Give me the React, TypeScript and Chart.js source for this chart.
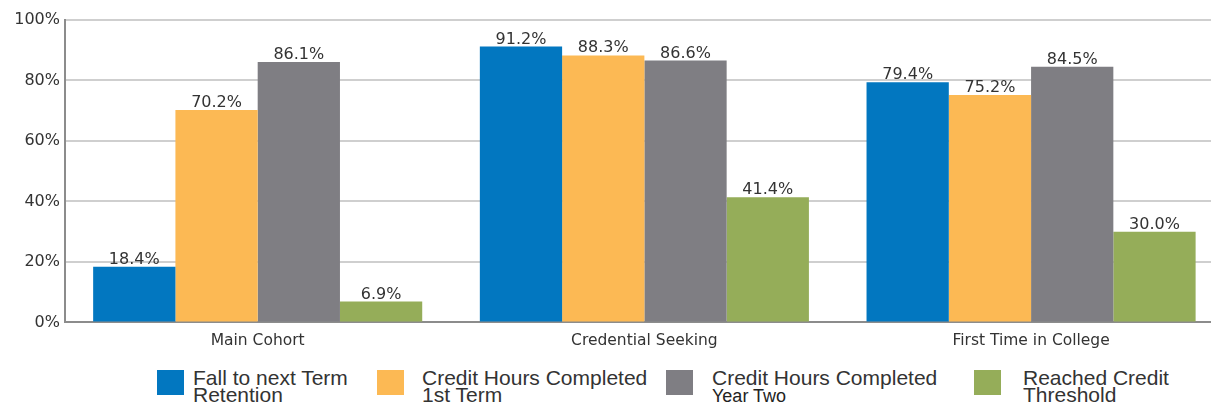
import React, { useEffect, useRef } from "react";
import { Chart, registerables } from "chart.js";

Chart.register(...registerables);

const categories = ["Main Cohort", "Credential Seeking", "First Time in College"];
const seriesNames = [
  "Fall to next Term Retention",
  "Credit Hours Completed 1st Term",
  "Credit Hours Completed Year Two",
  "Reached Credit Threshold",
];
const retention = [18.4, 91.2, 79.4];
const hoursFirstTerm = [70.2, 88.3, 75.2];
const hoursYearTwo = [86.1, 86.6, 84.5];
const creditThreshold = [6.9, 41.4, 30.0];
const yTicks = [0, 20, 40, 60, 80, 100];

const colors = ["#0277c0", "#fcb954", "#7f7e83", "#95ad59"];

const legendItems = [
  { color: colors[0], lines: ["Fall to next Term", "Retention"], left: 157, textLeft: 193, small: false },
  { color: colors[1], lines: ["Credit Hours Completed", "1st Term"], left: 377, textLeft: 422, small: false },
  { color: colors[2], lines: ["Credit Hours Completed", "Year Two"], left: 666, textLeft: 712, small: true },
  { color: colors[3], lines: ["Reached Credit", "Threshold"], left: 974, textLeft: 1023, small: false },
];

const valueLabelPlugin = {
  id: "valueLabels",
  afterDatasetsDraw(chart: any) {
    const ctx = chart.ctx;
    ctx.save();
    ctx.font = '16px "DejaVu Sans", sans-serif';
    ctx.fillStyle = "#333333";
    ctx.textAlign = "center";
    ctx.textBaseline = "alphabetic";
    chart.data.datasets.forEach((ds: any, di: number) => {
      const meta = chart.getDatasetMeta(di);
      meta.data.forEach((bar: any, i: number) => {
        const v = ds.data[i].y;
        ctx.fillText(v.toFixed(1) + "%", bar.x, bar.y - 3);
      });
    });
    ctx.restore();
  },
};

const legendFont = '"Liberation Sans", Arial, sans-serif';

export default function App() {
  const ref = useRef<HTMLCanvasElement | null>(null);
  useEffect(() => {
    if (!ref.current) return;
    const seriesValues = [retention, hoursFirstTerm, hoursYearTwo, creditThreshold];
    const chart = new Chart(ref.current, {
      type: "bar",
      data: {
        datasets: seriesValues.map((vals, si) => ({
          label: seriesNames[si],
          data: vals.map((v, i) => ({ x: i, y: v })),
          backgroundColor: colors[si],
          borderWidth: 0,
          categoryPercentage: 0.851,
          barPercentage: 1,
        })),
      },
      options: {
        animation: false,
        responsive: false,
        maintainAspectRatio: false,
        layout: { padding: { top: 20, right: 0, bottom: 3, left: 0 } },
        plugins: { legend: { display: false }, tooltip: { enabled: false } },
        scales: {
          x: {
            type: "linear",
            offset: false,
            min: -0.4983,
            max: 2.4653,
            grid: { display: false, drawTicks: false },
            border: { display: true, color: "#8c8c8c", width: 2 },
            afterBuildTicks: (scale: any) => {
              scale.ticks = categories.map((_, i) => ({ value: i }));
            },
            ticks: {
              autoSkip: false,
              maxRotation: 0,
              padding: 9,
              color: "#333333",
              font: { family: '"DejaVu Sans", sans-serif', size: 15.5 },
              callback: (v: any) => categories[v] ?? "",
            },
          },
          y: {
            min: 0,
            max: 100,
            afterBuildTicks: (scale: any) => {
              scale.ticks = yTicks.map((v) => ({ value: v }));
            },
            afterFit: (scale: any) => {
              scale.width = 65;
            },
            grid: { color: "#cfcfcf", lineWidth: 2, drawTicks: false },
            border: { display: true, color: "#8c8c8c", width: 2 },
            ticks: {
              padding: 5,
              color: "#333333",
              font: { family: '"DejaVu Sans", sans-serif', size: 16 },
              callback: (v: any) => v + "%",
            },
          },
        },
      },
      plugins: [valueLabelPlugin],
    } as any);
    return () => chart.destroy();
  }, []);

  return (
    <div style={{ position: "fixed", left: 0, top: 0, width: 1211, height: 408, background: "#fff" }}>
      <canvas ref={ref} width={1211} height={362} style={{ position: "absolute", left: 0, top: 0 }} />
      {legendItems.map((it, k) => (
        <div key={k}>
          <div
            style={{
              position: "absolute",
              left: it.left,
              top: 370,
              width: 27,
              height: 25,
              background: it.color,
            }}
          />
          <div
            style={{
              position: "absolute",
              left: it.textLeft,
              top: 367,
              color: "#333333",
              fontFamily: legendFont,
              fontSize: 21,
              lineHeight: "21px",
              whiteSpace: "nowrap",
            }}
          >
            {it.lines[0]}
          </div>
          <div
            style={{
              position: "absolute",
              left: it.textLeft,
              top: it.small ? 387 : 384,
              color: it.small ? "#222222" : "#333333",
              fontFamily: legendFont,
              fontSize: it.small ? 18 : 21,
              lineHeight: it.small ? "18px" : "21px",
              whiteSpace: "nowrap",
            }}
          >
            {it.lines[1]}
          </div>
        </div>
      ))}
    </div>
  );
}
